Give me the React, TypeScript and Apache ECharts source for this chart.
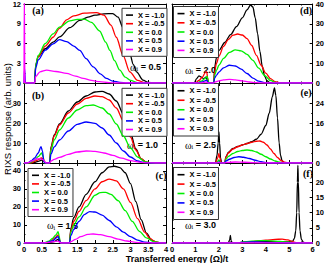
import React, { useEffect, useRef } from 'react';
import * as echarts from 'echarts';

const FONT = "'Liberation Sans', Arial, Helvetica, sans-serif";
const SERIF = "'Liberation Serif', 'Times New Roman', serif";

const seriesNames = ['X = -1.0', 'X = -0.5', 'X = 0.0', 'X = 0.5', 'X = 0.9'];
const seriesColors = ['#000000', '#ff0000', '#00ee00', '#0000ff', '#ff00ff'];
const omegaValues = ['0.5', '1.0', '1.5', '2.0', '2.5', '3.0'];
const panelLetters = ['(a)', '(b)', '(c)', '(d)', '(e)', '(f)'];
const xMaxes = [4, 4, 4, 6, 6, 6];
const xIntervals = [0.5, 0.5, 0.5, 1, 1, 1];
const yMaxes = [12, 40, 44.4, 40, 32, 26.3];
const yIntervals = [3, 10, 10, 10, 8, 5];
const yLabelMax = [12, 30, 40, 40, 24, 20];

// Panel (a) ω_i = 0.5
const aBlack = [[0,0],[0.3,0],[0.33,2.8],[0.4,4.0],[0.6,5.2],[0.82,6.2],[1.0,7.0],[1.29,8.4],[1.57,9.5],[1.8,10.0],[2.0,10.3],[2.25,10.5],[2.5,10.55],[2.65,10.0],[2.79,8.4],[2.9,6.4],[2.98,4.45],[3.08,2.8],[3.17,1.7],[3.35,0.45],[3.5,0.1],[3.65,0],[4,0]];
const aRed = [[0,0],[0.3,0],[0.33,2.5],[0.4,4.0],[0.6,5.6],[0.82,6.95],[1.0,8.3],[1.2,9.6],[1.4,10.2],[1.7,10.6],[2.04,10.7],[2.25,10.3],[2.45,8.8],[2.6,6.95],[2.79,4.2],[2.98,1.7],[3.2,0.4],[3.4,0.05],[3.5,0],[4,0]];
const aGreen = [[0,0],[0.3,0],[0.33,2.7],[0.4,4.2],[0.6,6.0],[0.82,7.45],[1.0,8.5],[1.29,9.45],[1.5,9.65],[1.7,9.7],[1.9,9.2],[2.13,7.9],[2.3,6.2],[2.42,4.95],[2.55,3.4],[2.7,1.95],[2.85,0.9],[3.0,0.4],[3.2,0.05],[3.3,0],[4,0]];
const aBlue = [[0,0],[0.015,2.2],[0.04,0],[0.3,0],[0.33,2.3],[0.4,3.5],[0.6,5.0],[0.82,5.95],[1.0,6.6],[1.2,6.3],[1.4,5.6],[1.57,4.95],[1.75,3.7],[1.95,2.45],[2.15,1.4],[2.32,0.7],[2.5,0.3],[2.7,0.1],[2.9,0],[4,0]];
const aMagenta = [[0,0],[0.008,14],[0.025,0],[0.3,0],[0.33,1.0],[0.45,1.7],[0.64,1.95],[0.9,1.75],[1.2,1.45],[1.45,1.05],[1.67,0.7],[1.9,0.4],[2.13,0.2],[2.4,0.05],[2.6,0],[4,0]];

// Panel (b) ω_i = 1.0
const bBlack = [[0,0],[0.25,0],[0.4,0.8],[0.5,1.5],[0.56,1],[0.6,0],[0.72,0],[0.76,8],[0.85,14],[1.0,19.5],[1.25,26],[1.5,30.5],[1.75,33.5],[2.0,35.5],[2.2,35.8],[2.4,34.5],[2.6,31],[2.8,24.5],[3.0,15],[3.15,7],[3.3,2],[3.45,0.3],[3.6,0],[4,0]];
const bRed = [[0,0],[0.2,0],[0.35,1.2],[0.5,2.5],[0.55,1.5],[0.6,0],[0.72,0],[0.76,7.5],[0.85,13.5],[1.0,19],[1.25,25],[1.5,29.5],[1.75,32.3],[2.0,33.5],[2.2,33.2],[2.4,31.5],[2.6,27.5],[2.8,21],[3.0,13],[3.15,6.5],[3.3,2.2],[3.45,0.4],[3.6,0],[4,0]];
const bGreen = [[0,0],[0.15,0],[0.3,1.5],[0.4,3.2],[0.5,5.0],[0.54,3],[0.58,0],[0.72,0],[0.76,6.5],[0.85,11.5],[1.0,16.5],[1.25,22.5],[1.5,26.5],[1.75,28.7],[1.95,29],[2.2,27.5],[2.4,24.5],[2.6,19.5],[2.8,13.5],[3.0,7.5],[3.2,3],[3.4,0.7],[3.6,0],[4,0]];
const bBlue = [[0,0],[0.1,0],[0.2,1],[0.3,2.5],[0.4,5],[0.48,8.2],[0.52,6],[0.56,0.5],[0.6,0],[0.72,0],[0.76,4.5],[0.85,8],[1.0,11.5],[1.25,16],[1.5,19.3],[1.75,20.5],[2.0,19.8],[2.2,17.5],[2.4,14],[2.6,10],[2.8,6],[3.0,3],[3.2,1],[3.4,0.2],[3.6,0],[4,0]];
const bMagenta = [[0,0],[0.1,0],[0.25,1.2],[0.35,2],[0.45,2.2],[0.55,1.5],[0.62,0],[0.72,0],[0.76,1],[0.85,1.8],[1.0,2.8],[1.25,4.3],[1.5,5.5],[1.75,6],[2.0,5.8],[2.25,5],[2.5,3.8],[2.75,2.4],[3.0,1.2],[3.25,0.4],[3.5,0.05],[3.7,0],[4,0]];

// Panel (c) ω_i = 1.5
const cBlack = [[0,0],[0.65,0],[0.85,0.8],[0.96,2],[0.99,1.2],[1.03,0],[1.28,0],[1.32,8],[1.4,14],[1.55,20],[1.75,27],[2.0,34],[2.2,39],[2.4,42.2],[2.55,42.6],[2.7,41.8],[2.85,39],[3.0,33],[3.15,23],[3.3,13],[3.45,5.5],[3.6,1.5],[3.75,0.3],[3.9,0],[4,0]];
const cRed = [[0,0],[0.6,0],[0.75,1],[0.88,3],[0.96,4.5],[0.99,3],[1.02,0.2],[1.05,0],[1.28,0],[1.32,7],[1.4,12],[1.55,17.5],[1.75,23.5],[2.0,30],[2.2,34],[2.4,35.5],[2.6,34.5],[2.8,30],[3.0,22.5],[3.2,13.5],[3.4,6],[3.55,2.5],[3.7,0.7],[3.85,0.1],[4,0]];
const cGreen = [[0,0],[0.55,0],[0.7,1],[0.8,2.5],[0.9,4.5],[0.96,6.3],[0.99,4],[1.02,0.3],[1.05,0],[1.28,0],[1.32,6],[1.4,10],[1.55,14.5],[1.75,20],[2.0,26.5],[2.15,28],[2.3,28.1],[2.45,27],[2.65,23.5],[2.85,18],[3.05,12],[3.25,6.5],[3.45,2.8],[3.65,0.8],[3.85,0.1],[4,0]];
const cBlue = [[0,0],[0.6,0],[0.8,1.2],[0.96,3.5],[0.99,2],[1.03,0],[1.28,0],[1.32,4],[1.4,7.5],[1.55,12],[1.7,15.8],[1.85,17.4],[2.0,17.2],[2.2,15.5],[2.4,12.5],[2.6,9],[2.8,6],[3.0,3.5],[3.2,1.6],[3.4,0.5],[3.6,0.1],[3.8,0],[4,0]];
const cMagenta = [[0,0],[0.5,0],[0.75,0.5],[0.95,1.0],[1.05,0],[1.28,0],[1.32,0.8],[1.45,2],[1.6,3.5],[1.8,4.8],[1.95,5],[2.15,4.6],[2.4,3.5],[2.65,2.2],[2.9,1.1],[3.15,0.4],[3.4,0.05],[3.6,0],[4,0]];

// Panel (d) ω_i = 2.0
const dBlack = [[0,0],[0.95,0],[1.05,2.2],[1.15,3.6],[1.25,3.0],[1.35,2.2],[1.45,3.0],[1.52,1.3],[1.56,0],[1.78,0],[1.82,8],[1.9,13],[2.0,16.5],[2.25,20.5],[2.5,24.5],[2.75,28.5],[3.0,33],[3.2,37],[3.35,39.5],[3.45,38.5],[3.55,33],[3.65,25],[3.75,16],[3.85,8.5],[3.95,3.5],[4.05,1.2],[4.15,0.3],[4.3,0],[6,0]];
const dRed = [[0,0],[1.0,0],[1.15,1.3],[1.3,3.0],[1.42,5.3],[1.48,5.8],[1.52,2.6],[1.56,0],[1.78,0],[1.82,6],[1.9,10],[2.0,13.5],[2.2,18.5],[2.4,22],[2.6,24.2],[2.8,24.8],[3.0,24.3],[3.2,22.5],[3.4,19],[3.6,14],[3.8,9],[4.0,5],[4.2,2.2],[4.4,0.7],[4.6,0.1],[4.8,0],[6,0]];
const dGreen = [[0,0],[1.05,0],[1.25,0.9],[1.4,2.2],[1.5,3.3],[1.54,1.3],[1.57,0],[1.78,0],[1.82,4],[1.9,6.5],[2.0,9],[2.2,12.5],[2.45,15.5],[2.7,16.8],[2.95,16.3],[3.2,14.5],[3.45,11.5],[3.7,7.5],[3.95,3.8],[4.2,1.3],[4.4,0.3],[4.6,0],[6,0]];
const dBlue = [[0,0],[1.1,0],[1.3,0.6],[1.48,1.4],[1.55,0],[1.78,0],[1.82,2.5],[1.9,4],[2.0,5.5],[2.2,7.7],[2.45,9],[2.7,8.6],[2.95,7],[3.2,4.8],[3.45,2.5],[3.7,0.9],[3.95,0.2],[4.2,0],[6,0]];
const dMagenta = [[0,0],[1.2,0],[1.45,0.4],[1.55,0],[1.78,0],[1.85,0.6],[2.0,1.1],[2.2,1.6],[2.45,1.8],[2.7,1.6],[3.0,1.1],[3.3,0.5],[3.6,0.15],[3.9,0],[6,0]];

// Panel (e) ω_i = 2.5
const eBlack = [[0,0],[1.85,0],[1.92,3],[1.97,8],[2.0,12.5],[2.03,8],[2.07,2],[2.12,0],[2.25,0],[2.3,2.5],[2.4,4.2],[2.6,5.8],[2.8,6.6],[3.0,7.2],[3.2,7.8],[3.4,8.5],[3.6,9.5],[3.8,11.5],[4.0,15],[4.15,20],[4.28,26.5],[4.37,30],[4.43,27],[4.5,18],[4.57,8],[4.63,3],[4.7,0.8],[4.8,0.1],[4.9,0],[6,0]];
const eRed = [[0,0],[1.85,0],[1.95,2],[2.0,3.8],[2.04,2],[2.1,0],[2.25,0],[2.3,2.3],[2.4,4],[2.6,5.6],[2.8,6.5],[3.0,7.2],[3.2,7.8],[3.4,8.3],[3.6,8.7],[3.75,8.8],[3.9,8.3],[4.05,7.2],[4.2,5.6],[4.35,3.8],[4.5,2.2],[4.65,1],[4.8,0.3],[5.0,0],[6,0]];
const eGreen = [[0,0],[1.9,0],[2.0,1.2],[2.06,0],[2.25,0],[2.3,1.5],[2.4,2.6],[2.6,3.8],[2.8,4.6],[3.0,5.0],[3.2,5.2],[3.4,5.0],[3.6,4.4],[3.8,3.5],[4.0,2.5],[4.2,1.6],[4.4,0.8],[4.6,0.3],[4.8,0],[6,0]];
const eBlue = [[0,0],[1.92,0],[2.0,0.4],[2.06,0],[2.25,0],[2.3,0.8],[2.45,1.5],[2.65,2.2],[2.85,2.5],[3.05,2.3],[3.3,1.8],[3.55,1.1],[3.8,0.5],[4.0,0.15],[4.2,0],[6,0]];
const eMagenta = [[0,0],[1.92,0],[2.0,0.2],[2.06,0],[2.25,0],[2.35,0.2],[2.7,0.4],[3.1,0.3],[3.5,0.1],[3.8,0],[6,0]];

// Panel (f) ω_i = 3.0
const fBlack = [[0,0],[2.4,0],[2.46,1],[2.49,2.5],[2.52,0.8],[2.57,0],[2.8,0],[3.0,0.3],[3.5,0.4],[4.0,0.45],[4.5,0.4],[5.0,0.4],[5.15,0.6],[5.22,1.5],[5.28,4],[5.32,10],[5.35,20],[5.37,25.5],[5.39,20],[5.42,10],[5.46,4],[5.52,1.2],[5.6,0.3],[5.7,0],[6,0]];
const fRed = [[0,0],[2.8,0],[3.2,0.3],[3.6,0.6],[4.0,0.9],[4.4,1.2],[4.7,1.25],[4.95,1.0],[5.1,0.6],[5.2,0.3],[5.3,0.1],[5.4,0],[6,0]];
const fGreen = [[0,0],[2.8,0],[3.0,0.3],[3.4,0.6],[3.8,0.8],[4.2,0.7],[4.6,0.5],[5.0,0.3],[5.2,0.1],[5.3,0],[6,0]];
const fBlue = [[0,0],[2.8,0],[3.0,0.2],[3.4,0.35],[3.8,0.3],[4.3,0.15],[4.8,0.05],[5.0,0],[6,0]];
const fMagenta = [[0,0],[6,0]];

const panelData = [
  [aBlack, aRed, aGreen, aBlue, aMagenta],
  [bBlack, bRed, bGreen, bBlue, bMagenta],
  [cBlack, cRed, cGreen, cBlue, cMagenta],
  [dBlack, dRed, dGreen, dBlue, dMagenta],
  [eBlack, eRed, eGreen, eBlue, eMagenta],
  [fBlack, fRed, fGreen, fBlue, fMagenta],
];

// layout
const gridLeft = [24, 24, 24, 172, 172, 172];
const gridTop = [3, 83, 163, 3, 83, 163];
const gridWidth = [142, 142, 142, 143, 143, 143];
const legendPos = [[122, 8.3], [122, 88.3], [28, 168.5], [173.5, 6.5], [173.5, 83.5], [173.5, 167.5]];
const legendLine = [8.6, 8.6, 8.6, 9.2, 9.5, 9.4];
const omegaPos = [[130, 67], [127, 145], [47, 225.5], [185, 70], [185, 145], [185, 225]];
const letterPos = [[38, 10.5], [38, 95], [161, 175], [306, 10.5], [306, 92], [308, 173]];

export default function App() {
  const ref = useRef<HTMLDivElement>(null);
  useEffect(() => {
    if (!ref.current) return;
    const chart = echarts.init(ref.current, undefined, { renderer: 'svg' });
    const lineCol = { color: '#000', width: 1 };
    const tick = { show: true, inside: true, length: 3, lineStyle: lineCol };
    const minor = (n: number) => ({ show: true, splitNumber: n, length: 1.6, lineStyle: { color: '#000', width: 0.8 } });
    const labelStyle = { color: '#000', fontSize: 7.5, fontWeight: 'bold', fontFamily: FONT };

    const grids = gridLeft.map((l, i) => ({ left: l, top: gridTop[i], width: gridWidth[i], height: 80 }));
    const xAxes: any[] = [];
    const yAxes: any[] = [];
    for (let i = 0; i < 6; i++) {
      xAxes.push({
        type: 'value', gridIndex: i, min: 0, max: xMaxes[i], interval: xIntervals[i], position: 'bottom',
        axisLine: { show: true, onZero: false, lineStyle: lineCol }, axisTick: tick,
        minorTick: i < 3 ? { show: false } : minor(2), splitLine: { show: false },
        axisLabel: { show: i === 2 || i === 5, margin: 2, ...labelStyle },
      });
      const labelMax = yLabelMax[i];
      yAxes.push({
        type: 'value', gridIndex: i, min: 0, max: yMaxes[i], interval: yIntervals[i], position: i < 3 ? 'left' : 'right',
        axisLine: { show: true, onZero: false, lineStyle: lineCol }, axisTick: tick, minorTick: minor(2), splitLine: { show: false },
        axisLabel: { margin: 3, ...labelStyle, formatter: (v: number) => (v > labelMax + 1e-6 ? '' : String(v)) },
      });
    }
    for (let i = 0; i < 6; i++) {
      xAxes.push({
        type: 'value', gridIndex: i, min: 0, max: xMaxes[i], interval: xIntervals[i], position: 'top',
        axisLine: { show: true, onZero: false, lineStyle: lineCol }, axisTick: tick,
        minorTick: i < 3 ? { show: false } : minor(2), splitLine: { show: false }, axisLabel: { show: false },
      });
      yAxes.push({
        type: 'value', gridIndex: i, min: 0, max: yMaxes[i], interval: yIntervals[i], position: i < 3 ? 'right' : 'left',
        axisLine: { show: true, onZero: false, lineStyle: lineCol }, axisTick: tick, minorTick: minor(2),
        splitLine: { show: false }, axisLabel: { show: false },
      });
    }

    const series: any[] = [];
    panelData.forEach((curves, i) => {
      curves.forEach((pts, j) => {
        series.push({
          type: 'line', name: seriesNames[j], xAxisIndex: i, yAxisIndex: i, data: pts,
          showSymbol: false, symbol: 'none', smooth: 0.3, smoothMonotone: 'x', silent: true,
          lineStyle: { color: seriesColors[j], width: 1.3 }, itemStyle: { color: seriesColors[j] }, z: 2 + j,
        });
      });
    });

    const legends = legendPos.map((p, i) => ({
      data: seriesNames, orient: 'vertical', left: p[0], top: p[1], icon: 'rect', itemWidth: 7, itemHeight: 1.6,
      itemGap: 0, padding: [2.5, 2.5, 2.5, 4], borderColor: '#333', borderWidth: 1, backgroundColor: '#fff',
      selectedMode: false, textStyle: { ...labelStyle, lineHeight: legendLine[i] },
    }));

    const graphic: any[] = [];
    omegaValues.forEach((w, i) => {
      graphic.push({
        type: 'text', x: omegaPos[i][0], y: omegaPos[i][1], silent: true,
        style: {
          text: '{w|ω}{s|i}{t| = ' + w + '}', verticalAlign: 'middle', align: 'left',
          rich: {
            w: { fontFamily: SERIF, fontSize: 10, fill: '#000' },
            s: { fontFamily: SERIF, fontSize: 6, fill: '#000', verticalAlign: 'bottom' },
            t: { fontFamily: FONT, fontSize: 9, fontWeight: 'bold', fill: '#000' },
          },
        },
      });
      graphic.push({
        type: 'text', x: letterPos[i][0], y: letterPos[i][1], silent: true,
        style: { text: panelLetters[i], fontFamily: SERIF, fontWeight: 'bold', fontSize: 10, fill: '#000', align: 'center', verticalAlign: 'middle' },
      });
    });
    graphic.push({
      type: 'text', x: 7, y: 119, rotation: Math.PI / 2, silent: true,
      style: { text: 'RIXS response (arb. units)', fontFamily: FONT, fontSize: 9.5, fill: '#000', align: 'center', verticalAlign: 'middle' },
    });
    graphic.push({
      type: 'text', x: 177, y: 258.5, silent: true,
      style: { text: 'Transferred energy (Ω)/t', fontFamily: FONT, fontSize: 9, fontWeight: 'bold', fill: '#000', align: 'center', verticalAlign: 'middle' },
    });

    chart.setOption({
      animation: false,
      backgroundColor: '#fff',
      grid: grids,
      xAxis: xAxes,
      yAxis: yAxes,
      legend: legends,
      series,
      graphic,
    });
    return () => chart.dispose();
  }, []);
  return <div ref={ref} style={{ position: 'fixed', left: 0, top: 0, width: 327, height: 263 }} />;
}
